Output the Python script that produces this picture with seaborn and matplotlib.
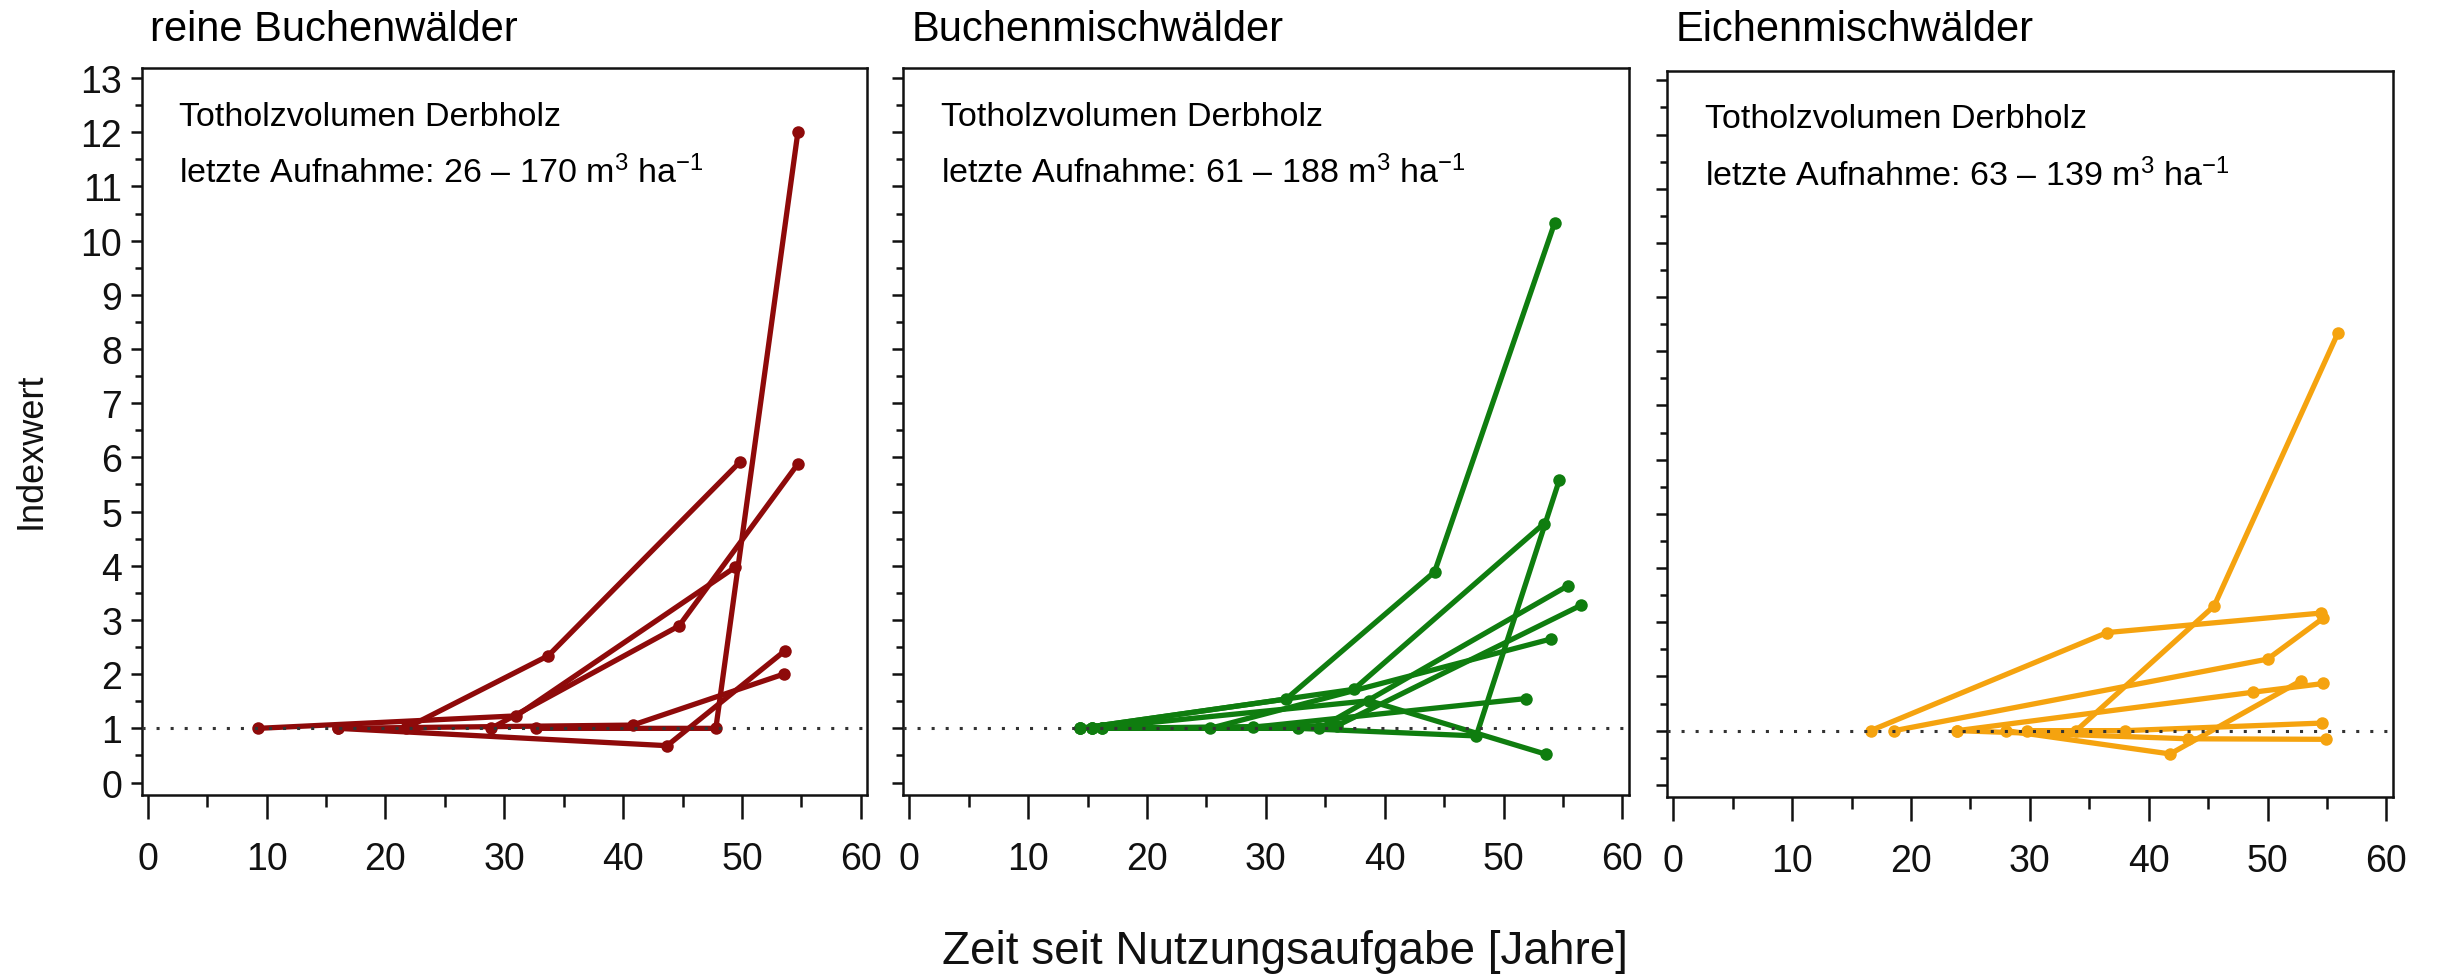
import numpy as np
import pandas as pd
import matplotlib
matplotlib.use("Agg")
import matplotlib.pyplot as plt
from matplotlib.ticker import MultipleLocator
import seaborn as sns

# ---------------- data ----------------
PANEL_TITLES = ["reine Buchenwälder", "Buchenmischwälder", "Eichenmischwälder"]
VOLUME_RANGES = ["26 – 170", "61 – 188", "63 – 139"]
COLORS = ["#8E0A0A", "#0F7D0F", "#F5A30F"]

# reine Buchenwälder: one list per plot (years since abandonment, index value)
BUCHE_X = [[9.3, 31.0, 49.4], [21.7, 33.7, 49.8], [28.9, 44.7, 54.7],
           [32.7, 47.8, 54.7], [16.0, 43.7, 53.6], [16.0, 40.8, 53.5]]
BUCHE_Y = [[1.0, 1.23, 3.97], [1.0, 2.34, 5.91], [1.0, 2.89, 5.88],
           [1.0, 1.0, 12.0], [1.0, 0.68, 2.43], [1.0, 1.06, 2.0]]

# Buchenmischwälder
BMW_X = [[14.4, 31.7, 44.2, 54.3], [14.4, 37.4, 53.4], [16.2, 32.7, 47.7, 54.7],
         [15.4, 38.7, 53.6], [15.4, 34.5, 55.4], [16.2, 36.0, 56.5],
         [14.4, 25.3, 54.0], [15.4, 28.9, 51.9]]
BMW_Y = [[1.0, 1.54, 3.89, 10.33], [1.0, 1.72, 4.78], [1.0, 1.0, 0.86, 5.59],
         [1.0, 1.51, 0.52], [1.0, 1.0, 3.63], [1.0, 1.05, 3.27],
         [1.0, 1.0, 2.65], [1.0, 1.02, 1.55]]

# Eichenmischwälder
EMW_X = [[16.6, 36.5, 54.5], [18.6, 50.0, 54.7], [23.9, 48.8, 54.7],
         [28.0, 41.8, 52.8], [33.9, 45.5, 55.9], [29.8, 38.0, 54.6],
         [23.9, 43.3, 54.9]]
EMW_Y = [[1.0, 2.81, 3.17], [1.0, 2.32, 3.08], [1.0, 1.71, 1.87],
         [1.0, 0.57, 1.92], [1.0, 3.30, 8.33], [1.0, 1.0, 1.14],
         [1.0, 0.85, 0.84]]

X_TICKS = [0, 10, 20, 30, 40, 50, 60]
Y_TICKS = list(range(0, 14))
REF_LEVEL = 1.0

# ---------------- style ----------------
sns.set_theme(style="ticks")
plt.rcParams["font.family"] = ["Liberation Sans", "DejaVu Sans"]
plt.rcParams["mathtext.fontset"] = "custom"
plt.rcParams["mathtext.rm"] = "Liberation Sans"
plt.rcParams["mathtext.it"] = "Liberation Sans:italic"
plt.rcParams["mathtext.default"] = "rm"


def build_frame(xs, ys):
    rows = []
    for i, (xl, yl) in enumerate(zip(xs, ys)):
        for xv, yv in zip(xl, yl):
            rows.append({"flaeche": i, "jahre": xv, "index": yv})
    return pd.DataFrame(rows)


frames = [build_frame(BUCHE_X, BUCHE_Y), build_frame(BMW_X, BMW_Y),
          build_frame(EMW_X, EMW_Y)]

W, H = 2438, 978
fig = plt.figure(figsize=(W / 100, H / 100), dpi=100)
lefts = [141.7, 903.3, 1667.3]
bottoms = [796.0, 796.0, 798.3]
aw, ah = 725.7, 726.7

for k in range(3):
    ax = fig.add_axes([lefts[k] / W, 1 - bottoms[k] / H, aw / W, ah / H])
    sns.lineplot(data=frames[k], x="jahre", y="index", units="flaeche",
                 estimator=None, sort=False, color=COLORS[k], marker="o",
                 legend=False, ax=ax, zorder=3)
    for ln in ax.get_lines():
        ln.set_linewidth(3.8)
        ln.set_markersize(9)
        ln.set_markeredgewidth(0)
        ln.set_solid_capstyle("round")
        ln.set_solid_joinstyle("round")
    ax.axhline(REF_LEVEL, color="#333333", linestyle=(0, (1, 3.6)),
               linewidth=2.2, zorder=4)
    ax.set_xlim(-0.5, 60.55)
    ax.set_ylim(-0.23, 13.18)
    ax.set_xticks(X_TICKS)
    ax.set_yticks(Y_TICKS)
    ax.xaxis.set_minor_locator(MultipleLocator(5))
    ax.yaxis.set_minor_locator(MultipleLocator(0.5))
    ax.tick_params(axis="x", which="major", length=17, width=1.8,
                   labelsize=27, pad=16, colors="#111111")
    ax.tick_params(axis="x", which="minor", length=8.5, width=1.8,
                   colors="#111111")
    ax.tick_params(axis="y", which="major", length=8, width=1.8,
                   labelsize=27, pad=6, colors="#111111")
    ax.tick_params(axis="y", which="minor", length=5, width=1.8,
                   colors="#111111")
    if k > 0:
        ax.tick_params(axis="y", labelleft=False)
    for sp in ax.spines.values():
        sp.set_visible(True)
        sp.set_linewidth(1.8)
        sp.set_color("#111111")
    ax.set_xlabel("")
    ax.set_ylabel("")
    ax.text(0.052, 0.934, "Totholzvolumen Derbholz", transform=ax.transAxes,
            fontsize=24.5, ha="left", va="center", color="black")
    ax.text(0.052, 0.857,
            "letzte Aufnahme: " + VOLUME_RANGES[k] + r" m$^{3}$ ha$^{-1}$",
            transform=ax.transAxes, fontsize=24.5, ha="left", va="center",
            color="black")
    fig.text((lefts[k] + 8) / W, 1 - 30 / H, PANEL_TITLES[k], fontsize=30,
             ha="left", va="center", color="black")

fig.text(1285 / W, 1 - 952 / H, "Zeit seit Nutzungsaufgabe [Jahre]",
         fontsize=33, ha="center", va="center", color="#111111")
fig.text(31 / W, 1 - 451 / H, "Indexwert", fontsize=26, rotation=90,
         ha="center", va="center", color="#111111")

fig.savefig("out.png", dpi=100, facecolor="white")
